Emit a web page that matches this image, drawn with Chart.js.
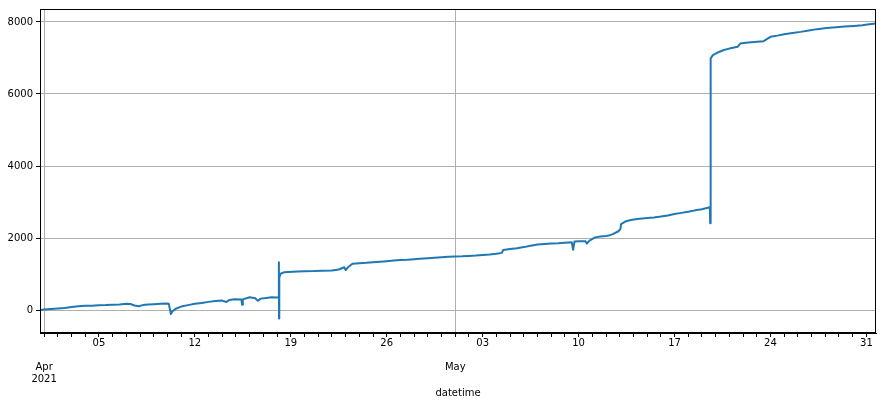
<!DOCTYPE html>
<html lang="en">
<head>
    <meta charset="UTF-8">
    <title>datetime series</title>
    <script src="https://cdn.jsdelivr.net/npm/chart.js"></script>
    <style>
        body { margin: 0; background: #fff; }
        canvas { display: block; }
    </style>
</head>
<body>
<canvas id="myChart" width="883" height="406"></canvas>
<script>
// days since 2021-04-01 00:00
const days = [
    -0.3, 0.0, 0.5, 1.0, 1.5, 2.0, 2.5, 3.0, 3.5, 4.0, 4.5, 5.0, 5.5, 6.0, 6.3, 6.6, 6.9, 7.2, 7.6, 8.0,
    8.5, 8.9, 9.1, 9.25, 9.35, 9.6, 10.0, 10.5, 11.0, 11.5, 12.0, 12.5, 13.0, 13.3, 13.5, 13.9, 14.4, 14.45,
    14.5, 15.0, 15.4, 15.6, 15.8, 16.2, 16.6, 17.0, 17.1, 17.13, 17.14, 17.16, 17.25, 17.5, 17.8,
    18.5, 19.0, 19.7, 20.3, 21.0, 21.5, 21.9, 22.0, 22.2, 22.5, 23.0, 23.5, 24.0, 24.5, 25.0, 25.5,
    26.0, 26.5, 27.0, 27.4, 28.0, 28.5, 29.0, 29.5, 30.0, 30.5, 31.0, 31.5, 32.0, 32.5, 33.0, 33.4,
    33.5, 34.0, 34.5, 35.0, 35.5, 36.0, 36.5, 37.0, 37.5, 38.0, 38.5, 38.6, 38.7, 39.0, 39.5, 39.6,
    39.8, 40.2, 40.6, 41.0, 41.2, 41.5, 41.9, 42.05, 42.1, 42.4, 42.8, 43.3, 44.0, 44.5, 45.0, 45.5,
    46.0, 46.5, 47.0, 47.5, 48.0, 48.5, 48.58, 48.6, 48.62, 48.65, 48.8, 49.2, 49.6, 50.0, 50.6, 50.8,
    51.2, 51.8, 52.5, 53.0, 53.5, 54.0, 54.6, 55.2, 55.8, 56.4, 57.1, 57.8, 58.4, 59.1, 59.7, 60.2, 60.7
];
const values = [
    5, 15, 30, 45, 60, 85, 110, 120, 125, 135, 140, 150, 160, 175, 170, 130, 110, 140, 160, 165,
    175, 185, 175, -110, -40, 40, 100, 140, 175, 200, 230, 255, 265, 225, 280, 300, 295, 150,
    300, 360, 330, 260, 320, 340, 355, 350, 350, 1330, -230, 900, 1010, 1050, 1060,
    1070, 1080, 1085, 1095, 1100, 1130, 1190, 1110, 1200, 1290, 1305, 1315, 1330, 1345, 1360, 1375,
    1390, 1400, 1415, 1425, 1440, 1455, 1470, 1480, 1490, 1495, 1505, 1515, 1530, 1545, 1565, 1590,
    1670, 1700, 1720, 1750, 1790, 1820, 1835, 1850, 1857, 1870, 1885, 1675, 1905, 1910, 1915, 1850,
    1930, 2020, 2045, 2060, 2070, 2110, 2190, 2250, 2390, 2460, 2500, 2530, 2555, 2575, 2600, 2630,
    2670, 2700, 2730, 2770, 2800, 2850, 2860, 2410, 6400, 6990, 7080, 7160, 7220, 7260, 7310, 7400,
    7420, 7440, 7467, 7586, 7620, 7660, 7695, 7724, 7760, 7800, 7834, 7855, 7870, 7890, 7910, 7935, 7955
];

const yTicks = [0, 2000, 4000, 6000, 8000];
const xTickDays = [0, 4, 11, 18, 25, 30, 32, 39, 46, 53, 60];
const xTickLabels = [['', '', 'Apr', '2021'], '05', '12', '19', '26', ['', '', 'May'], '03', '10', '17', '24', '31'];
const majorDays = [0, 30];

Chart.defaults.font.family = 'DejaVu Sans';
Chart.defaults.font.size = 10;
Chart.defaults.color = '#000';

const frame = {
    id: 'frame',
    afterDraw(chart) {
        const a = chart.chartArea, c = chart.ctx;
        c.save();
        c.strokeStyle = '#000';
        c.lineWidth = 1;
        c.strokeRect(Math.round(a.left) + 0.5, Math.round(a.top) + 0.5,
            Math.round(a.right - a.left) - 1, Math.round(a.bottom - a.top) - 1);
        c.restore();
    }
};

const ctx = document.getElementById('myChart').getContext('2d');
new Chart(ctx, {
    type: 'line',
    data: {
        datasets: [{
            data: days.map((d, i) => ({ x: d, y: values[i] })),
            borderColor: '#1f77b4',
            borderWidth: 2,
            borderJoinStyle: 'round',
            pointRadius: 0,
            tension: 0
        }]
    },
    options: {
        responsive: false,
        animation: false,
        layout: { padding: { top: 7, right: 7, left: 0, bottom: 0 } },
        plugins: { legend: { display: false }, tooltip: { enabled: false } },
        scales: {
            x: {
                type: 'linear',
                min: -0.3,
                max: 60.7,
                afterBuildTicks: s => {
                    const t = [];
                    for (let d = 0; d <= 60; d++) t.push({ value: d });
                    s.ticks = t;
                },
                afterFit: s => { s.height = 73; },
                ticks: {
                    autoSkip: false,
                    maxRotation: 0,
                    padding: 0,
                    callback: v => {
                        const k = xTickDays.indexOf(v);
                        return k >= 0 ? xTickLabels[k] : '';
                    }
                },
                grid: {
                    color: c => (c.tick && majorDays.includes(c.tick.value)) ? '#b0b0b0' : 'rgba(0,0,0,0)',
                    tickColor: '#000',
                    tickLength: 4,
                    lineWidth: 1
                },
                border: { color: '#000' },
                title: { display: true, text: 'datetime', padding: { top: 4, bottom: 7 } }
            },
            y: {
                min: -634,
                max: 8359,
                afterBuildTicks: s => { s.ticks = yTicks.map(v => ({ value: v })); },
                afterFit: s => { s.width = 40; },
                ticks: { padding: 3, callback: v => String(v) },
                grid: { color: '#b0b0b0', tickColor: '#000', tickLength: 4, lineWidth: 1 },
                border: { color: '#000' }
            }
        }
    },
    plugins: [frame]
});
</script>
</body>
</html>
